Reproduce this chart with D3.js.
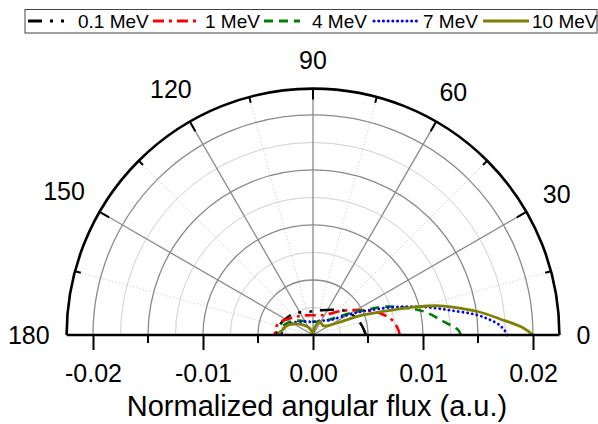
<!DOCTYPE html>
<html><head><meta charset="utf-8">
<script src="https://cdn.jsdelivr.net/npm/d3@7"></script>
<style>
html,body{margin:0;padding:0;background:#fff;}
svg{display:block;font-family:"Liberation Sans",Arial,sans-serif;}
</style></head>
<body><svg id="c" width="598" height="424"></svg>
<script>
// ---- data ----
const seriesNames = ["0.1 MeV", "1 MeV", "4 MeV", "7 MeV", "10 MeV"];
// angles (deg) and normalized angular flux values
const flux01Angles = [0, 10, 25, 40, 55, 70, 85, 110, 130, 150, 165, 180];
const flux01Values = [0.0048, 0.00455, 0.0041, 0.0035, 0.0028, 0.0024, 0.0022, 0.0022, 0.0026, 0.0029, 0.0032, 0.0034];
const flux1Angles = [0, 5, 11, 17, 23, 31, 40, 55, 70, 90, 110, 130, 142, 156, 166, 180];
const flux1Values = [0.0079, 0.0077, 0.0073, 0.00655, 0.0056, 0.0044, 0.0034, 0.0023, 0.0019, 0.0018, 0.0019, 0.0022, 0.0025, 0.0031, 0.0034, 0.0035];
const flux4Angles = [0, 2, 6, 12, 16, 21, 25, 30, 38, 50, 70, 90, 110, 130, 150, 165, 180];
const flux4Values = [0.01345, 0.0132, 0.0119, 0.0103, 0.0089, 0.0072, 0.0055, 0.0040, 0.0025, 0.0017, 0.0013, 0.0012, 0.0013, 0.0017, 0.0024, 0.0029, 0.0031];
const flux7Angles = [0, 1, 3, 5, 7, 10, 14, 18, 22, 27, 33, 42, 60, 90, 120, 150, 165, 180];
const flux7Values = [0.01764, 0.0175, 0.0170, 0.0161, 0.0150, 0.0128, 0.0105, 0.0083, 0.0063, 0.0045, 0.0030, 0.0020, 0.0015, 0.0012, 0.0014, 0.0022, 0.0027, 0.0029];
const flux10Angles = [0, 2, 5, 8, 10, 13, 15, 17, 19, 22, 25, 30, 37, 45, 55, 63, 70, 80, 90, 105, 120, 135, 150, 160, 170, 180];
const flux10Values = [0.0200, 0.0191, 0.0170, 0.0152, 0.0138, 0.0118, 0.0100, 0.0080, 0.0064, 0.0048, 0.0030, 0.0018, 0.00136, 0.00125, 0.0013, 0.0014, 0.0011, 0.0005, 0.0001, 0.0003, 0.0008, 0.0013, 0.0020, 0.0025, 0.0028, 0.0032];
const angleTickLabels = ["0", "30", "60", "90", "120", "150", "180"];
const radialTickLabels = ["-0.02", "-0.01", "0.00", "0.01", "0.02"];
const axisTitle = "Normalized angular flux (a.u.)";

// ---- styles ----
const styles = [
  {color:"#000000", dash:"14,8,3,8,3,8", width:2.6, cap:"butt"},
  {color:"#ff0000", dash:"11,5,3,5", width:2.6, cap:"butt"},
  {color:"#008000", dash:"9,6", width:2.6, cap:"butt"},
  {color:"#0000ff", dash:"0.1,4.6", width:2.8, cap:"round"},
  {color:"#808000", dash:null, width:2.8, cap:"butt"}
];

const svg = d3.select("#c");
const cx = 313, cy = 335, R = 246.4, rMax = 0.0224;
const r = d3.scaleLinear().domain([0, rMax]).range([0, R]);
const xs = d3.scaleLinear().domain([-rMax, rMax]).range([cx - R, cx + R]);
const g = svg.append("g").attr("transform", `translate(${cx},${cy})`);
const rad = d => d * Math.PI / 180;

// grid circles (minor then major)
const minorRs = d3.range(0.0025, 0.0224, 0.005);
const majorRs = [0.005, 0.01, 0.015, 0.02];
const arc = d3.arc().startAngle(-Math.PI/2).endAngle(Math.PI/2);
g.selectAll(".minc").data(minorRs).join("path")
  .attr("d", d => arc({innerRadius:r(d), outerRadius:r(d)}))
  .attr("fill","none").attr("stroke","#d6d6d6").attr("stroke-width",0.8);
g.selectAll(".minr").data([15,45,75,105,135,165]).join("line")
  .attr("x1",0).attr("y1",0)
  .attr("x2", d => R*Math.cos(rad(d))).attr("y2", d => -R*Math.sin(rad(d)))
  .attr("stroke","#c8c8c8").attr("stroke-width",0.8).attr("stroke-dasharray","1.5,2");
g.selectAll(".majc").data(majorRs).join("path")
  .attr("d", d => arc({innerRadius:r(d), outerRadius:r(d)}))
  .attr("fill","none").attr("stroke","#8a8a8a").attr("stroke-width",1.3);
g.selectAll(".majr").data([30,60,90,120,150]).join("line")
  .attr("x1",0).attr("y1",0)
  .attr("x2", d => R*Math.cos(rad(d))).attr("y2", d => -R*Math.sin(rad(d)))
  .attr("stroke","#8a8a8a").attr("stroke-width",1.3);

// data curves
const allSeries = [
  [flux01Angles, flux01Values],
  [flux1Angles, flux1Values],
  [flux4Angles, flux4Values],
  [flux7Angles, flux7Values],
  [flux10Angles, flux10Values]
];
const line = d3.lineRadial()
  .angle(d => rad(90 - d[0]))
  .radius(d => r(d[1]))
  .curve(d3.curveCatmullRom.alpha(0.5));
allSeries.forEach((s, i) => {
  const pts = s[0].map((a, j) => [a, s[1][j]]);
  g.append("path").attr("d", line(pts))
    .attr("fill","none").attr("stroke", styles[i].color)
    .attr("stroke-width", styles[i].width)
    .attr("stroke-dasharray", styles[i].dash)
    .attr("stroke-linecap", styles[i].cap);
});

// outer frame
g.append("path").attr("d", arc({innerRadius:R, outerRadius:R}))
  .attr("fill","none").attr("stroke","#000").attr("stroke-width",2.6);
g.append("line").attr("x1",-R).attr("x2",R).attr("y1",0).attr("y2",0)
  .attr("stroke","#000").attr("stroke-width",2.6);

// angular ticks on outer arc
const angTicks = d3.range(15, 180, 15);
g.selectAll(".at").data(angTicks).join("line")
  .attr("x1", d => R*Math.cos(rad(d))).attr("y1", d => -R*Math.sin(rad(d)))
  .attr("x2", d => (R - (d % 30 === 0 ? 11 : 6))*Math.cos(rad(d)))
  .attr("y2", d => -(R - (d % 30 === 0 ? 11 : 6))*Math.sin(rad(d)))
  .attr("stroke","#000").attr("stroke-width",2);
// angle labels: placed outside the arc with a gap plus half the text extent
const angLabels = g.selectAll(".al").data(angleTickLabels).join("text")
  .attr("text-anchor","middle").attr("dominant-baseline","central")
  .attr("font-size",25).attr("fill","#000").text(d => d);
angLabels.each(function(d) {
  const w = this.getComputedTextLength();
  const a = rad(+d), c = Math.cos(a), s = Math.sin(a);
  const ext = Math.abs(c) * w / 2 + Math.abs(s) * 12;
  const rr = R + 17 + ext;
  d3.select(this).attr("x", rr * c).attr("y", -rr * s);
});

// bottom radial axis
const axis = d3.axisBottom(xs).tickValues(radialTickLabels.map(Number))
  .tickFormat((d,i) => radialTickLabels[i]).tickSize(15).tickPadding(14);
const ax = svg.append("g").attr("transform", `translate(0,${cy})`).call(axis);
ax.select(".domain").remove();
ax.selectAll(".tick line").attr("stroke","#000").attr("stroke-width",2);
ax.selectAll(".tick text").attr("font-size",25).attr("fill","#000")
  .attr("font-family",'"Liberation Sans",Arial,sans-serif');
svg.append("g").selectAll("line").data([-0.015,-0.005,0.005,0.015]).join("line")
  .attr("x1", d => xs(d)).attr("x2", d => xs(d))
  .attr("y1", cy).attr("y2", cy + 8)
  .attr("stroke","#000").attr("stroke-width",2);

svg.append("text").attr("x", cx + 4).attr("y", 416)
  .attr("text-anchor","middle")
  .attr("font-size",29).attr("fill","#000").text(axisTitle);

// legend
const leg = svg.append("g");
leg.append("rect").attr("x",25).attr("y",9.5).attr("width",572).attr("height",23.5)
  .attr("fill","#fff").attr("stroke","#444").attr("stroke-width",1);
const legLineX = [[28,70],[153,199],[264,300],[374,420],[483,529]];
const legTextX = [78, 205, 312, 423, 532];
seriesNames.forEach((n, i) => {
  leg.append("line").attr("x1", legLineX[i][0]).attr("x2", legLineX[i][1])
    .attr("y1",21).attr("y2",21)
    .attr("stroke", styles[i].color).attr("stroke-width", 3)
    .attr("stroke-dasharray", styles[i].dash)
    .attr("stroke-linecap", styles[i].cap);
  leg.append("text").attr("x", legTextX[i]).attr("y", 28)
    .attr("font-size",19).attr("fill","#000").text(n);
});
</script></body></html>
